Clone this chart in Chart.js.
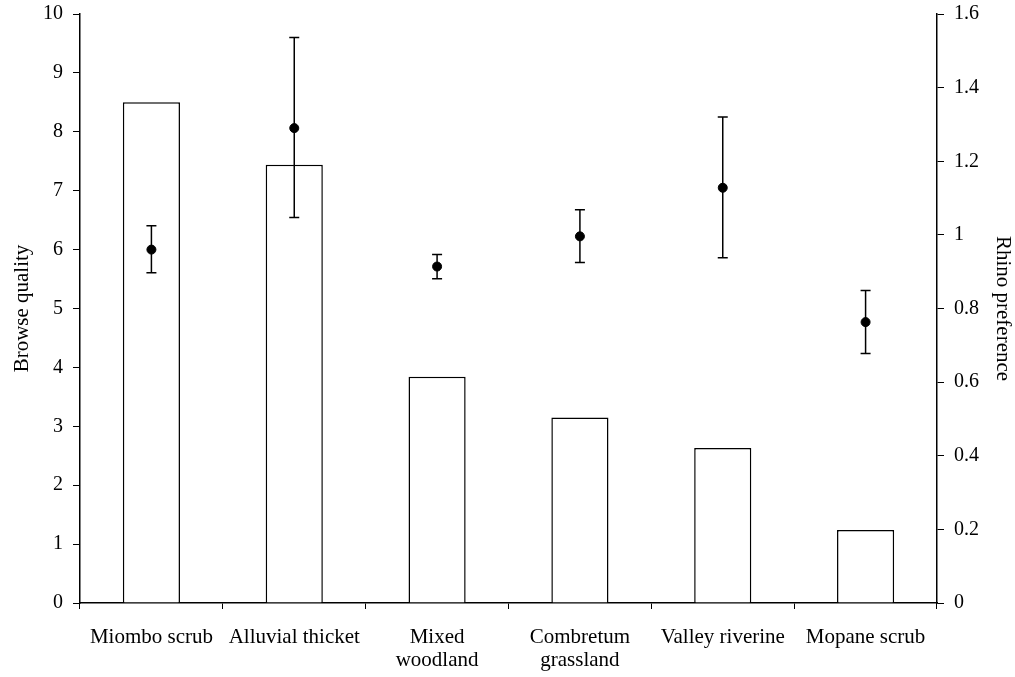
<!DOCTYPE html>
<html>
<head>
<meta charset="utf-8">
<script src="https://cdn.jsdelivr.net/npm/chart.js"></script>
<style>
  html, body { margin: 0; padding: 0; background: #fff; }
  #wrap { width: 1015px; height: 677px; }
</style>
</head>
<body>
<div id="wrap"><canvas id="chart" width="1015" height="677"></canvas></div>
<script>
// habitats along the x axis
const habitats = ['Miombo scrub', 'Alluvial thicket', ['Mixed', 'woodland'], ['Combretum', 'grassland'], 'Valley riverine', 'Mopane scrub'];

// bars, left axis
const browseQuality = [8.5, 7.44, 3.84, 3.15, 2.63, 1.24];

// points with error bars, right axis
const rhinoPref = [0.96, 1.29, 0.914, 0.996, 1.128, 0.763];
const prefLow = [0.897, 1.047, 0.881, 0.925, 0.938, 0.678];
const prefHigh = [1.025, 1.536, 0.947, 1.068, 1.32, 0.849];

const serif = 'Liberation Serif, Times New Roman, serif';

// draws the vertical whiskers for the preference points
const errorBars = {
    id: 'errorBars',
    afterDatasetsDraw(chart) {
        const ctx = chart.ctx;
        const meta = chart.getDatasetMeta(1);
        const y1 = chart.scales.y1;
        ctx.save();
        ctx.strokeStyle = '#000';
        ctx.lineWidth = 1.5;
        meta.data.forEach((pt, i) => {
            const x = pt.x;
            const top = y1.getPixelForValue(prefHigh[i]);
            const bot = y1.getPixelForValue(prefLow[i]);
            ctx.beginPath();
            ctx.moveTo(x, top); ctx.lineTo(x, bot);
            ctx.moveTo(x - 5, top); ctx.lineTo(x + 5, top);
            ctx.moveTo(x - 5, bot); ctx.lineTo(x + 5, bot);
            ctx.stroke();
        });
        ctx.restore();
    }
};

// fixed widths for the side axes, no extra label padding
function sideFit(w) {
    return s => { s.width = w; s.paddingTop = 0; s.paddingBottom = 0; };
}

new Chart(document.getElementById('chart'), {
    type: 'bar',
    data: {
        labels: habitats,
        datasets: [{
            label: 'Browse quality',
            data: browseQuality,
            yAxisID: 'y',
            order: 2,
            backgroundColor: '#fff',
            borderColor: '#000',
            borderWidth: 1.5,
            categoryPercentage: 1,
            barPercentage: 0.4
        }, {
            type: 'line',
            label: 'Rhino preference',
            data: rhinoPref,
            yAxisID: 'y1',
            order: 1,
            showLine: false,
            pointRadius: 4.5,
            pointBackgroundColor: '#000',
            pointBorderColor: '#000'
        }]
    },
    options: {
        responsive: false,
        animation: false,
        layout: { padding: { top: 14, left: 0, right: 0, bottom: 0 } },
        plugins: {
            legend: { display: false },
            tooltip: { enabled: false }
        },
        scales: {
            x: {
                afterFit(s) { s.height = 74; },
                grid: { drawOnChartArea: false, drawTicks: true, tickLength: 6, color: '#000', offset: true },
                border: { color: '#000', width: 1.5 },
                ticks: { color: '#000', font: { family: serif, size: 21, lineHeight: 1.1 }, padding: 17, maxRotation: 0, autoSkip: false }
            },
            y: {
                position: 'left',
                min: 0, max: 10,
                afterFit: sideFit(80),
                grid: { drawOnChartArea: false, drawTicks: true, tickLength: 7, color: '#000' },
                border: { color: '#000', width: 1.5 },
                ticks: { stepSize: 1, color: '#000', font: { family: serif, size: 20 }, padding: 10 },
                title: { display: true, text: 'Browse quality', color: '#000', font: { family: serif, size: 21 }, padding: { top: 10, bottom: 0 } }
            },
            y1: {
                position: 'right',
                min: 0, max: 1.6,
                afterFit: sideFit(78),
                grid: { drawOnChartArea: false, drawTicks: true, tickLength: 7, color: '#000' },
                border: { color: '#000', width: 1.5 },
                ticks: { stepSize: 0.2, color: '#000', font: { family: serif, size: 20 }, padding: 10,
                    callback: v => String(+v.toFixed(1)) },
                title: { display: true, text: 'Rhino preference', color: '#000', font: { family: serif, size: 21 }, padding: { top: 0, bottom: 0 } }
            }
        }
    },
    plugins: [errorBars]
});
</script>
</body>
</html>
